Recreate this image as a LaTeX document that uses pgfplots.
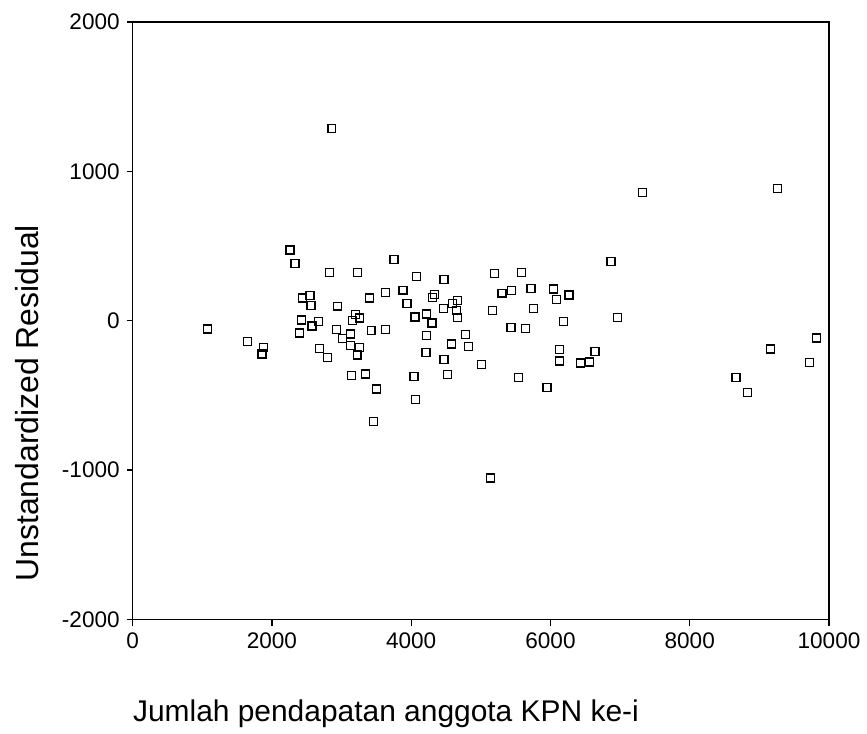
\documentclass[border=0pt]{standalone}
\usepackage{fontspec}
\setmainfont{Liberation Sans}
\usepackage{pgfplots}
\pgfplotsset{compat=1.18}

\begin{document}
\begin{tikzpicture}
\begin{axis}[
scale only axis,
width=349pt, height=299.5pt,
xmin=0, xmax=10000,
ymin=-2000, ymax=2000,
scaled x ticks=false,
scaled y ticks=false,
xtick={0,2000,4000,6000,8000,10000},
xticklabels={0,2000,4000,6000,8000,10000},
ytick={-2000,-1000,0,1000,2000},
yticklabels={-2000,-1000,0,1000,2000},
tick align=outside,
tick pos=left,
major tick length=3pt,
axis line style={line width=0.7pt},
tick style={line width=0.7pt, black},
tick label style={font=\fontsize{11.3}{13}\selectfont},
xlabel={Jumlah pendapatan anggota KPN ke-i},
ylabel={Unstandardized Residual},
xlabel style={at={(axis description cs:0,-0.1703)}, anchor=base west,
  font=\fontsize{15}{18}\selectfont, inner sep=0pt},
ylabel style={at={(axis description cs:-0.1347,0.362)}, anchor=base,
  rotate=0, font=\fontsize{16}{19}\selectfont, inner sep=0pt},
clip=false,
]
\addplot [
color = black,
mark = square,
mark size = 2pt,
line width = 0.6pt,
only marks
] coordinates {
(1079,-55)
(1652,-140)
(1881,-178)
(1858,-223)
(2259,473)
(2331,381)
(2832,324)
(3228,324)
(2861,1286)
(3754,408)
(4073,294)
(2440,152)
(2546,167)
(2560,103)
(2937,98)
(3405,152)
(3635,190)
(3883,205)
(3940,115)
(3205,41)
(3252,18)
(3156,0)
(2428,5)
(2574,-35)
(2665,-5)
(2400,-82)
(2930,-57)
(3013,-118)
(3133,-89)
(3424,-67)
(3635,-59)
(4054,25)
(4219,45)
(4298,-15)
(4219,-99)
(4212,-213)
(2679,-187)
(2794,-245)
(3123,-167)
(3262,-178)
(3223,-229)
(3138,-365)
(3345,-356)
(3496,-457)
(4040,-373)
(4064,-528)
(3453,-676)
(4470,275)
(4302,156)
(4338,178)
(4463,80)
(4589,114)
(4660,134)
(4660,23)
(4656,68)
(4781,-92)
(4577,-156)
(4824,-172)
(4470,-258)
(5014,-295)
(4523,-362)
(5201,317)
(5587,324)
(5305,185)
(5444,201)
(5719,214)
(6046,212)
(6082,143)
(6265,172)
(5162,67)
(5759,84)
(5433,-44)
(5640,-50)
(6189,-7)
(6870,394)
(6958,20)
(6132,-195)
(6640,-207)
(6132,-269)
(6433,-283)
(6562,-276)
(5544,-378)
(5950,-445)
(5139,-1053)
(7321,860)
(9259,885)
(8663,-378)
(8830,-483)
(9165,-189)
(9818,-116)
(9723,-278)
};
\end{axis}
\path ([shift={(-66.5pt,-57pt)}]current axis.south west)
  rectangle ([shift={(18pt,11pt)}]current axis.north east);
\end{tikzpicture}
\end{document}
